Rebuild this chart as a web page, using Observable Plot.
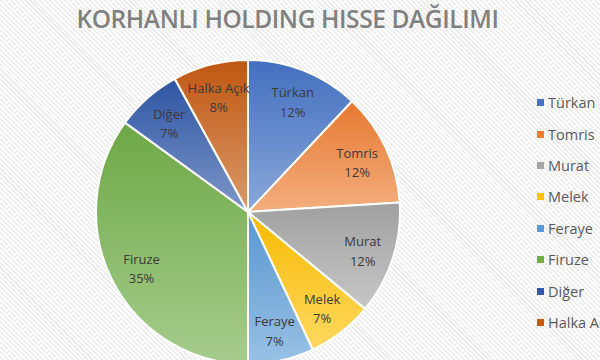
<!DOCTYPE html>
<html>
<head>
<meta charset="utf-8">
<script src="https://cdn.jsdelivr.net/npm/d3@7"></script>
<script src="https://cdn.jsdelivr.net/npm/@observablehq/plot@0.6"></script>
<style>
  html, body { margin: 0; padding: 0; }
  body {
    width: 600px; height: 360px; overflow: hidden; position: relative;
    background: repeating-linear-gradient(45deg, #ffffff 0px, #ffffff 2px, #ececec 2px, #ececec 3.5px);
    font-family: "Open Sans", sans-serif;
  }
  #title {
    position: absolute; left: 0; width: 575px; top: 2px; text-align: center;
    font-size: 24.5px; font-weight: 600; color: #808080; letter-spacing: -0.4px;
    white-space: nowrap;
  }
  #chart { position: absolute; left: 0; top: 30px; }
  #legend { position: absolute; left: 537px; top: 87px; white-space: nowrap; }
  #legend .lg-swatches { margin: 0 !important; font-family: "Open Sans", sans-serif !important; font-size: 14.5px !important; color: #595959 !important; }
  #legend .lg-swatch { height: 31.4px !important; padding: 0 !important; margin: 0 !important; display: flex !important; align-items: center; white-space: nowrap; }
  #legend .lg-swatch svg { margin-right: 4px !important; }
</style>
</head>
<body>
<div id="title"></div>
<div id="chart"></div>
<div id="legend"></div>
<script>
const titleText = "KORHANLI HOLDING HISSE DAĞILIMI";
const names = ["Türkan", "Tomris", "Murat", "Melek", "Feraye", "Firuze", "Diğer", "Halka Açık"];
const shares = [12, 12, 12, 7, 7, 35, 7, 8];
const colors = ["#4472C4", "#ED7D31", "#A5A5A5", "#FFC000", "#5B9BD5", "#70AD47", "#2F58A8", "#C55A11"];

document.getElementById("title").textContent = titleText;

const rows = names.map((name, i) => ({name, share: shares[i]}));
const arcs = d3.pie().sort(null).value(d => d.share).startAngle(0).endAngle(2 * Math.PI)(rows);
const labelR = 0.79;
const labels = arcs.map(a => {
  const mid = (a.startAngle + a.endAngle) / 2;
  return {x: Math.sin(mid) * labelR, y: Math.cos(mid) * labelR, text: `${a.data.name}\n${a.data.share}%`};
});

function pieMark(index, scales) {
  const cx = scales.x(0), cy = scales.y(0);
  const r = scales.x(1) - scales.x(0);
  const g = d3.create("svg:g");
  const defs = g.append("defs");
  arcs.forEach((a, i) => {
    const base = scales.color(a.data.name);
    const lg = defs.append("linearGradient").attr("id", "grad" + i)
      .attr("x1", 0).attr("y1", 0).attr("x2", 0).attr("y2", 1);
    lg.append("stop").attr("offset", 0).attr("stop-color", d3.interpolateRgb(base, "#000")(0.03));
    lg.append("stop").attr("offset", 1).attr("stop-color", d3.interpolateRgb(base, "#fff")(0.38));
  });
  const arc = d3.arc().innerRadius(0).outerRadius(r);
  g.attr("transform", `translate(${cx},${cy})`)
    .selectAll("path").data(arcs).join("path")
    .attr("d", arc)
    .attr("fill", (d, i) => `url(#grad${i})`)
    .attr("stroke", "#fff")
    .attr("stroke-width", 2)
    .attr("stroke-linejoin", "round");
  return g.node();
}

const plot = Plot.plot({
  width: 600,
  height: 330,
  margin: 0,
  style: {background: "transparent", overflow: "visible"},
  x: {domain: [-1, 1], range: [96, 400], axis: null},
  y: {domain: [-1, 1], range: [334, 30], axis: null},
  color: {domain: names, range: colors},
  marks: [
    pieMark,
    Plot.text(labels, {
      x: "x", y: "y", text: "text",
      fontSize: 13, lineHeight: 1.5, fill: "#3a3a3a",
      fontFamily: "Open Sans"
    })
  ]
});
document.getElementById("chart").appendChild(plot);

const legend = Plot.legend({
  color: {domain: names, range: colors},
  columns: 1,
  swatchSize: 7,
  className: "lg"
});
document.getElementById("legend").appendChild(legend);
</script>
</body>
</html>
